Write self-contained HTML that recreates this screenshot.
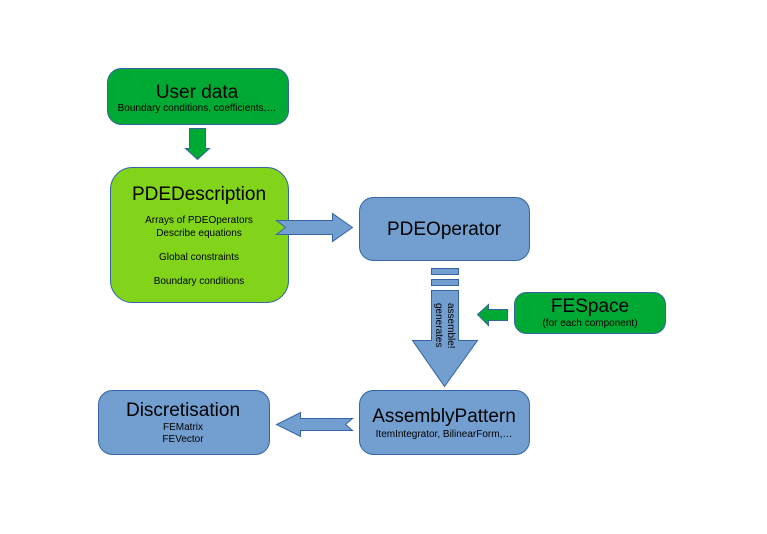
<!DOCTYPE html>
<html><head><meta charset="utf-8"><style>
body{margin:0;background:#fff;}
svg text{font-family:"Liberation Sans",sans-serif;fill:#000;}
</style></head><body>
<svg width="767" height="529" viewBox="0 0 767 529" xmlns="http://www.w3.org/2000/svg">
<g stroke="#3465a4" stroke-width="1">
<!-- User data -->
<rect x="107.5" y="68.5" width="181" height="56" rx="14" fill="#00a933"/>
<!-- down arrow -->
<path d="M189.5 128.5 H205.5 V148.5 H209.5 L197.5 159.5 L185.5 148.5 H189.5 Z" fill="#00a933"/>
<!-- PDEDescription -->
<rect x="110.5" y="167.5" width="178" height="135" rx="22" fill="#81d41a"/>
<!-- right arrow -->
<path d="M276.5 220.5 H332.5 V213.5 L352.5 227.5 L332.5 241.5 V234.5 H276.5 L285.5 227.5 Z" fill="#729fcf"/>
<!-- PDEOperator -->
<rect x="359.5" y="197.5" width="170" height="63" rx="14" fill="#729fcf"/>
<!-- dashes + big down arrow -->
<rect x="431.5" y="268.5" width="27" height="6" fill="#729fcf"/>
<rect x="431.5" y="279.5" width="27" height="6" fill="#729fcf"/>
<path d="M431.5 290.5 H458.5 V340.5 H477.5 L444.5 386.5 L412.5 340.5 H431.5 Z" fill="#729fcf"/>
<!-- FESpace -->
<rect x="514.5" y="292.5" width="151" height="41" rx="12" fill="#00a933"/>
<path d="M507.5 309.5 H488.5 V304.5 L477.5 314.5 L488.5 325.5 V320.5 H507.5 Z" fill="#00a933"/>
<!-- AssemblyPattern -->
<rect x="359.5" y="390.5" width="170" height="64" rx="14" fill="#729fcf"/>
<!-- left arrow -->
<path d="M352.5 418.5 H300.5 V412.5 L276.5 424.5 L300.5 436.5 V430.5 H352.5 L345.5 424.5 Z" fill="#729fcf"/>
<!-- Discretisation -->
<rect x="98.5" y="390.5" width="171" height="64" rx="14" fill="#729fcf"/>
</g>
<text x="197" y="98" font-size="19" text-anchor="middle">User data</text>
<text x="197" y="111" font-size="10" text-anchor="middle">Boundary conditions, coefficients,…</text>
<text x="199" y="200" font-size="19" text-anchor="middle">PDEDescription</text>
<text x="199" y="223" font-size="10" text-anchor="middle">Arrays of PDEOperators</text>
<text x="199" y="236" font-size="10" text-anchor="middle">Describe equations</text>
<text x="199" y="260" font-size="10" text-anchor="middle">Global constraints</text>
<text x="199" y="284" font-size="10" text-anchor="middle">Boundary conditions</text>
<text x="444" y="235" font-size="19" text-anchor="middle">PDEOperator</text>
<text x="590" y="312" font-size="19" text-anchor="middle">FESpace</text>
<text x="590" y="326" font-size="10" text-anchor="middle">(for each component)</text>
<text x="444" y="422" font-size="19" text-anchor="middle">AssemblyPattern</text>
<text x="444" y="437" font-size="10" text-anchor="middle">ItemIntegrator, BilinearForm,…</text>
<text x="183" y="416" font-size="19" text-anchor="middle">Discretisation</text>
<text x="183" y="430" font-size="10" text-anchor="middle">FEMatrix</text>
<text x="183" y="442" font-size="10" text-anchor="middle">FEVector</text>
<g transform="translate(445,303) rotate(90)">
<text x="0" y="-3" font-size="10">assemble!</text>
<text x="0" y="9" font-size="10">generates</text>
</g>
</svg>
</body></html>
